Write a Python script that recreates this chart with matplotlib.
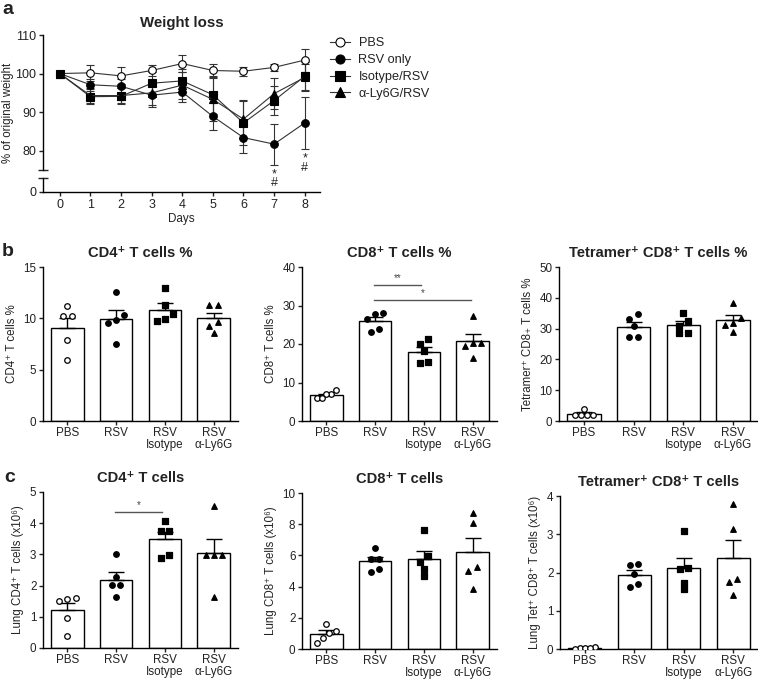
import numpy as np
import matplotlib.pyplot as plt
from matplotlib.lines import Line2D

plt.rcParams['font.family'] = ['Liberation Sans', 'DejaVu Sans']
plt.rcParams['axes.linewidth'] = 1.0
plt.rcParams['xtick.major.width'] = 1.0
plt.rcParams['ytick.major.width'] = 1.0
plt.rcParams['xtick.major.size'] = 3.2
plt.rcParams['ytick.major.size'] = 3.2
plt.rcParams['xtick.major.pad'] = 1.5
plt.rcParams['ytick.major.pad'] = 1.5
plt.rcParams['text.color'] = '#222222'
plt.rcParams['xtick.color'] = '#222222'
plt.rcParams['ytick.color'] = '#222222'
plt.rcParams['axes.labelcolor'] = '#222222'

# Weight loss (% of original weight), mean and error per day
days = [0, 1, 2, 3, 4, 5, 6, 7, 8]
pbs_w = [100, 100.2, 99.4, 100.8, 102.6, 100.8, 100.6, 101.6, 103.5]
pbs_err = [0.5, 2.0, 2.2, 1.5, 2.3, 1.8, 1.2, 1.0, 3.0]
rsv_w = [100, 97.1, 96.7, 94.4, 95.2, 88.9, 83.4, 81.7, 87.2]
rsv_err = [0.5, 1.5, 2.0, 3.0, 2.5, 3.4, 4.0, 5.3, 6.8]
iso_w = [100, 94.0, 94.1, 97.5, 98.1, 94.5, 87.2, 93.0, 99.3]
iso_err = [0.5, 2.0, 2.1, 3.0, 3.0, 5.0, 5.8, 3.7, 3.6]
ly_w = [100, 94.3, 94.3, 95.0, 97.0, 93.3, 88.2, 94.8, 99.0]
ly_err = [0.5, 2.0, 2.0, 3.2, 3.5, 5.5, 5.0, 4.0, 3.5]
sig_days = [7, 8]

# groups for bar panels
groups = ['PBS', 'RSV', 'RSV\nIsotype', 'RSV\nα-Ly6G']

# individual mice, order: PBS, RSV, RSV Isotype, RSV a-Ly6G
cd4_pct = [[11.2, 10.2, 10.2, 7.9, 5.9],
           [12.6, 10.3, 9.8, 9.55, 7.5],
           [13.0, 11.3, 10.4, 9.7, 9.9],
           [11.3, 11.3, 9.6, 9.25, 8.6]]
cd8_pct = [[8.0, 6.9, 6.9, 6.05, 6.05],
           [27.9, 28.1, 26.6, 24.0, 23.0],
           [21.25, 20.1, 18.2, 15.4, 14.95],
           [27.4, 20.2, 19.5, 20.2, 16.4]]
tet_pct = [[3.9, 2.1, 1.9, 2.0, 2.1],
           [34.7, 33.0, 30.9, 27.3, 27.3],
           [35.2, 32.5, 30.9, 28.6, 28.6],
           [38.3, 33.3, 31.8, 31.1, 28.9]]
cd4_num = [[1.59, 1.52, 1.58, 0.96, 0.37],
           [3.01, 2.26, 2.03, 2.03, 1.63],
           [4.08, 3.76, 3.76, 2.9, 2.99],
           [4.56, 2.99, 2.99, 2.99, 1.65]]
cd8_num = [[1.6, 1.18, 1.05, 0.71, 0.37],
           [6.46, 5.76, 5.76, 4.96, 5.12],
           [7.64, 5.93, 5.6, 5.1, 4.7],
           [8.75, 8.07, 5.28, 5.0, 3.83]]
tet_num = [[0.05, 0.02, 0.01, 0.02, 0.03],
           [2.19, 2.22, 1.95, 1.63, 1.70],
           [3.08, 2.12, 2.08, 1.73, 1.58],
           [3.8, 3.13, 1.83, 1.76, 1.41]]

W, H = 758, 680
fig = plt.figure(figsize=(W / 100, H / 100), dpi=100)


def px_rect(l, t, r, b):
    return [l / W, 1 - b / H, (r - l) / W, (b - t) / H]


# ---------- panel a : weight loss ----------
ax_top = fig.add_axes(px_rect(43, 35, 320, 170))
ax_bot = fig.add_axes(px_rect(43, 178, 320, 192), sharex=ax_top)
ax_bot.patch.set_alpha(0)

series = [
    (pbs_w, pbs_err, 'o', 'white', 'PBS'),
    (rsv_w, rsv_err, 'o', 'black', 'RSV only'),
    (iso_w, iso_err, 's', 'black', 'Isotype/RSV'),
    (ly_w, ly_err, '^', 'black', 'α-Ly6G/RSV'),
]
for vals, err, mk, fc, lab in series:
    ax_top.errorbar(days, vals, yerr=err, fmt='none', ecolor='#333333',
                    elinewidth=0.8, capsize=3, capthick=0.8, zorder=2)
    ax_top.plot(days, vals, color='#333333', lw=0.8, marker=mk, ms=5.5,
                mfc=fc, mec='black', mew=0.8, zorder=3, label=lab)

ax_top.set_ylim(75, 110)
ax_top.set_yticks([80, 90, 100, 110])
ax_top.set_yticks([75], minor=True)
ax_top.tick_params(axis='y', which='minor', length=7, direction='inout', width=1)
ax_top.set_xlim(-0.55, 8.5)
ax_top.spines[['top', 'right', 'bottom']].set_visible(False)
ax_top.tick_params(axis='x', bottom=False, labelbottom=False)
ax_top.tick_params(axis='y', labelsize=9)
ax_top.set_title('Weight loss', fontsize=10.8, fontweight='bold', pad=6)
ax_top.set_ylabel('% of original weight', fontsize=8.3)
ax_top.yaxis.set_label_coords(-0.105, 0.42)

for d in sig_days:
    low = rsv_w[d] - rsv_err[d]
    ax_top.annotate('*', xy=(d, low), xytext=(0, -2.5), textcoords='offset points',
                    ha='center', va='top', fontsize=9, annotation_clip=False, zorder=5)
    ax_top.annotate('#', xy=(d, low), xytext=(0, -9), textcoords='offset points',
                    ha='center', va='top', fontsize=9, annotation_clip=False, zorder=5)

ax_bot.set_ylim(0, 3.6)
ax_bot.set_yticks([0])
ax_bot.set_yticks([3.6], minor=True)
ax_bot.tick_params(axis='y', which='minor', length=7, direction='inout', width=1)
ax_bot.spines[['top', 'right']].set_visible(False)
ax_bot.set_xticks(days)
ax_bot.tick_params(labelsize=9)
ax_bot.set_xlabel('Days', fontsize=8.4, labelpad=2)

handles = [Line2D([], [], color='#333333', lw=0.8, marker=mk, ms=6.5, mfc=fc,
                  mec='black', mew=0.8) for _, _, mk, fc, _ in series]
fig.legend(handles, [s[4] for s in series], loc='upper left',
           bbox_to_anchor=(324 / W, 1 - 31 / H), frameon=False, fontsize=9.2,
           handlelength=1.5, handletextpad=0.7, labelspacing=0.38, borderpad=0)

fig.text(2 / W, 1 - 1 / H, 'a', fontsize=14, fontweight='bold', va='top')
fig.text(2 / W, 1 - 243 / H, 'b', fontsize=14, fontweight='bold', va='top')
fig.text(4 / W, 1 - 469 / H, 'c', fontsize=14, fontweight='bold', va='top')


# ---------- bar panels ----------
markers = [('o', 'white'), ('o', 'black'), ('s', 'black'), ('^', 'black')]


def spread(vals, tol):
    vals = np.asarray(vals, dtype=float)
    offs = np.zeros(len(vals))
    order = np.argsort(vals)
    clusters = [[order[0]]]
    for i in order[1:]:
        if vals[i] - vals[clusters[-1][-1]] < tol:
            clusters[-1].append(i)
        else:
            clusters.append([i])
    for c in clusters:
        k = len(c)
        step = min(0.17, 0.5 / k)
        for j, idx in enumerate(c):
            offs[idx] = (j - (k - 1) / 2) * step
    return offs


def bar_panel(rect, data, ymax, ystep, title, ylabel, sig=None):
    ax = fig.add_axes(px_rect(*rect))
    for i, pts in enumerate(data):
        pts = np.asarray(pts)
        mean = pts.mean()
        sem = pts.std(ddof=1) / np.sqrt(len(pts))
        ax.bar(i, mean, width=0.67, color='white', edgecolor='black', lw=1.0, zorder=1)
        ax.errorbar(i, mean, yerr=[[0], [sem]], color='black', lw=1.0,
                    capsize=5.5, capthick=1.0, zorder=2)
        mk, fc = markers[i]
        ax.scatter(i + spread(pts, ymax * 0.035), pts, marker=mk, s=16,
                   facecolor=fc, edgecolor='black', linewidth=0.9, zorder=3)
    ax.set_xlim(-0.5, 3.5)
    ax.set_ylim(0, ymax)
    ax.set_yticks(np.arange(0, ymax + ystep / 2, ystep))
    ax.yaxis.set_major_formatter(plt.FormatStrFormatter('%g'))
    ax.set_xticks(range(len(groups)))
    ax.set_xticklabels(groups, fontsize=8.4, linespacing=1.05)
    ax.tick_params(axis='x', pad=1)
    ax.tick_params(axis='y', labelsize=8.4)
    ax.spines[['top', 'right']].set_visible(False)
    ax.set_title(title, fontsize=10.6, fontweight='bold', pad=7)
    ax.set_ylabel(ylabel, fontsize=8.3)
    if sig:
        for x0, x1, y, txt in sig:
            ax.plot([x0, x1], [y, y], color='#555555', lw=1.0, clip_on=False)
            ax.text((x0 + x1) / 2, y + ymax * 0.012, txt, ha='center', va='bottom',
                    fontsize=7, color='#444444')
    return ax


bar_panel((43, 267, 238, 421), cd4_pct, 15, 5, 'CD4⁺ T cells %', 'CD4⁺ T cells %')
bar_panel((302, 267, 497, 421), cd8_pct, 40, 10, 'CD8⁺ T cells %', 'CD8⁺ T cells %',
          sig=[(0.97, 1.95, 35.4, '**'), (0.97, 2.97, 31.4, '*')])
bar_panel((559, 267, 758, 421), tet_pct, 50, 10, 'Tetramer⁺ CD8⁺ T cells %',
          'Tetramer⁺ CD8₊ T cells %')
bar_panel((43, 492, 238, 648), cd4_num, 5, 1, 'CD4⁺ T cells', 'Lung CD4⁺ T cells (x10⁶)',
          sig=[(0.97, 1.95, 4.36, '*')])
bar_panel((302, 493, 497, 649), cd8_num, 10, 2, 'CD8⁺ T cells', 'Lung CD8⁺ T cells (x10⁶)')
bar_panel((560, 496, 758, 649), tet_num, 4, 1, 'Tetramer⁺ CD8⁺ T cells',
          'Lung Tet⁺ CD8⁺ T cells (x10⁶)')

fig.savefig('out.png', dpi=100)
